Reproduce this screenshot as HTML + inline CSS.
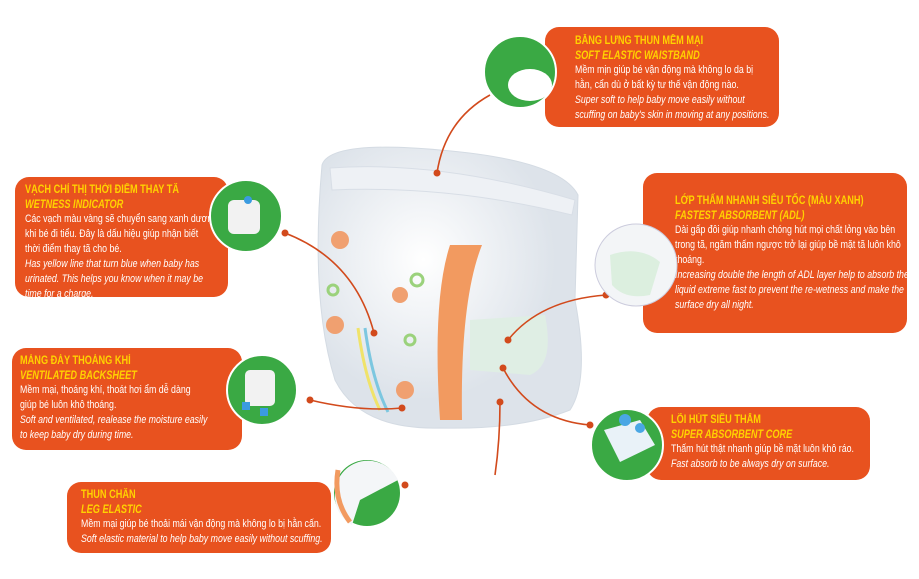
<!DOCTYPE html>
<html><head><meta charset="utf-8"><style>
body{margin:0;width:919px;height:579px;background:#fff;position:relative;overflow:hidden;font-family:"Liberation Sans",sans-serif}
.b{position:absolute;background:#e8521f;border-radius:14px;color:#fff;box-sizing:border-box}
.s{transform:scaleX(0.8);transform-origin:0 0;white-space:nowrap;font-size:11px;line-height:15px}
.b .t{color:#ffd200;font-weight:bold;font-size:11.5px;line-height:15px}
.b .e{color:#ffd200;font-weight:bold;font-style:italic;font-size:11.5px;line-height:14px}
.b i{display:block}
svg{position:absolute;left:0;top:0}
</style></head><body>
<div class="b" style="left:545px;top:27px;width:234px;height:100px;padding:7px 0 0 30px"><div class="s">
<div class="t">BẰNG LƯNG THUN MỀM MẠI</div><div class="e">SOFT ELASTIC WAISTBAND</div>
Mềm mịn giúp bé vận động mà không lo da bị<br>hằn, cẩn dù ở bất kỳ tư thế vận động nào.<i>Super soft to help baby move easily without<br>scuffing on baby's skin in moving at any positions.</i></div></div>
<div class="b" style="left:15px;top:177px;width:213px;height:120px;padding:6px 4px 0 10px"><div class="s">
<div class="t">VẠCH CHỈ THỊ THỜI ĐIỂM THAY TÃ</div><div class="e">WETNESS INDICATOR</div>
Các vạch màu vàng sẽ chuyển sang xanh dương<br>khi bé đi tiểu. Đây là dấu hiệu giúp nhận biết<br>thời điểm thay tã cho bé.<i>Has yellow line that turn blue when baby has<br>urinated. This helps you know when it may be<br>time for a charge.</i></div></div>
<div class="b" style="left:643px;top:173px;width:264px;height:160px;padding:21px 4px 0 32px"><div class="s">
<div class="t">LỚP THẤM NHANH SIÊU TỐC (MÀU XANH)</div><div class="e">FASTEST ABSORBENT (ADL)</div>
Dài gấp đôi giúp nhanh chóng hút mọi chất lỏng vào bên<br>trong tã, ngăm thấm ngược trở lại giúp bề mặt tã luôn khô<br>thoáng.<i>Increasing double the length of ADL layer help to absorb the<br>liquid extreme fast to prevent the re-wetness and make the<br>surface dry all night.</i></div></div>
<div class="b" style="left:12px;top:348px;width:230px;height:102px;padding:6px 4px 0 8px"><div class="s">
<div class="t">MÀNG ĐÁY THOÁNG KHÍ</div><div class="e">VENTILATED BACKSHEET</div>
Mềm mại, thoáng khí, thoát hơi ẩm dễ dàng<br>giúp bé luôn khô thoáng.<i>Soft and ventilated, realease the moisture easily<br>to keep baby dry during time.</i></div></div>
<div class="b" style="left:647px;top:407px;width:223px;height:73px;padding:6px 0 0 24px"><div class="s">
<div class="t">LÕI HÚT SIÊU THẤM</div><div class="e">SUPER ABSORBENT CORE</div>
Thấm hút thật nhanh giúp bề mặt luôn khô ráo.<i>Fast absorb to be always dry on surface.</i></div></div>
<div class="b" style="left:67px;top:482px;width:264px;height:71px;padding:6px 0 0 14px"><div class="s">
<div class="t">THUN CHÂN</div><div class="e">LEG ELASTIC</div>
Mềm mại giúp bé thoải mái vận động mà không lo bị hằn cấn.<i>Soft elastic material to help baby move easily without scuffing.</i></div></div>
<svg width="919" height="579">
<defs><radialGradient id="g" cx="0.4" cy="0.4"><stop offset="0" stop-color="#fff"/><stop offset="1" stop-color="#dde3ea"/></radialGradient></defs>
<path d="M322,165 Q330,140 440,150 Q560,160 578,195 L575,300 Q590,380 570,410 Q520,430 440,428 Q360,430 335,380 Q310,300 322,165Z" fill="url(#g)" stroke="#d4dbe3"/>
<path d="M330,168 Q440,160 575,200 L572,215 Q450,185 332,190Z" fill="#eef1f5" stroke="#d8dee6"/>
<path d="M450,245 L482,245 Q460,300 462,420 L440,420 Q432,300 450,245Z" fill="#f29a60"/>
<path d="M470,320 L545,315 Q555,365 530,375 L470,370Z" fill="#dfeee4"/>
<path d="M358,328 Q365,380 380,410" stroke="#f0e36a" stroke-width="3" fill="none"/>
<path d="M365,328 Q372,380 388,412" stroke="#7cc7e0" stroke-width="3" fill="none"/>
<g fill="#f0a070"><circle cx="340" cy="240" r="9"/><circle cx="335" cy="325" r="9"/><circle cx="400" cy="295" r="8"/><circle cx="405" cy="390" r="9"/></g>
<g fill="none" stroke="#9bd27c" stroke-width="3"><circle cx="333" cy="290" r="5"/><circle cx="417" cy="280" r="6"/><circle cx="410" cy="340" r="5"/></g>
<g stroke="#d24a1c" stroke-width="1.6" fill="none">
<path d="M490,95 Q445,120 437,173"/><path d="M285,233 Q355,260 374,333"/><path d="M606,295 Q540,300 508,340"/>
<path d="M310,400 Q360,412 402,408"/><path d="M590,425 Q530,420 503,368"/><path d="M495,475 Q500,440 500,402"/>
</g>
<g fill="#d24a1c"><circle cx="437" cy="173" r="3.5"/><circle cx="374" cy="333" r="3.5"/><circle cx="508" cy="340" r="3.5"/><circle cx="503" cy="368" r="3.5"/><circle cx="500" cy="402" r="3.5"/><circle cx="402" cy="408" r="3.5"/>
<circle cx="285" cy="233" r="3.5"/><circle cx="310" cy="400" r="3.5"/><circle cx="606" cy="295" r="3.5"/><circle cx="590" cy="425" r="3.5"/><circle cx="405" cy="485" r="3.5"/></g>
<circle cx="520" cy="72" r="36" fill="#3aa944" stroke="#fff" stroke-width="2"/><ellipse cx="530" cy="85" rx="22" ry="16" fill="#fff"/>
<circle cx="246" cy="216" r="36" fill="#3aa944" stroke="#fff" stroke-width="2"/><rect x="228" y="200" width="32" height="34" rx="6" fill="#f2f2f2"/><circle cx="248" cy="200" r="4" fill="#3b9be0"/>
<circle cx="636" cy="265" r="41" fill="#f3f5f7" stroke="#ccd" stroke-width="1"/><path d="M610,255 Q640,245 660,262 L650,295 Q625,300 612,285Z" fill="#dcefdf"/>
<circle cx="262" cy="390" r="35" fill="#3aa944" stroke="#fff" stroke-width="2"/><rect x="245" y="370" width="30" height="36" rx="5" fill="#f2f2f2"/><rect x="242" y="402" width="8" height="8" fill="#3b9be0"/><rect x="260" y="408" width="8" height="8" fill="#3b9be0"/>
<circle cx="627" cy="445" r="36" fill="#3aa944" stroke="#fff" stroke-width="2"/><path d="M604,430 L640,420 L655,445 L620,462Z" fill="#e9f2f8"/><circle cx="625" cy="420" r="6" fill="#4aa7e4"/><circle cx="640" cy="428" r="5" fill="#4aa7e4"/>
<circle cx="367" cy="493" r="33" fill="#3aa944"/><path d="M335,493 A33,33 0 0 1 398,480 L360,500 L352,525 A33,33 0 0 1 335,493Z" fill="#f4f6f8"/><path d="M338,470 Q333,500 350,522" stroke="#f29a60" stroke-width="5" fill="none"/>
</svg>
</body></html>
